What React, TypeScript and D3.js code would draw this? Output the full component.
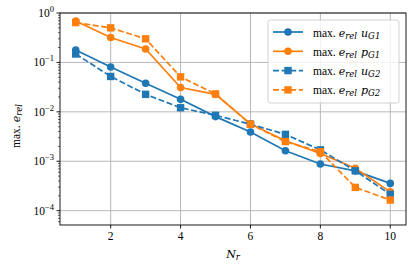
import React from "react";
import * as d3 from "d3";

const nr = [1, 2, 3, 4, 5, 6, 7, 8, 9, 10];
const uG1 = [0.178, 0.081, 0.038, 0.0179, 0.008, 0.0039, 0.00163, 0.00088, 0.00064, 0.000356];
const pG1 = [0.69, 0.32, 0.187, 0.031, 0.0226, 0.0057, 0.0026, 0.00144, 0.00072, 0.00024];
const uG2 = [0.148, 0.052, 0.0226, 0.0121, 0.0085, 0.0056, 0.0035, 0.0017, 0.00064, 0.000214];
const pG2 = [0.64, 0.5, 0.3, 0.051, 0.023, 0.0056, 0.0025, 0.00156, 0.000296, 0.000164];
const xTicks = [2, 4, 6, 8, 10];
const yTickExps = [0, -1, -2, -3, -4];

const series = [
  { name: "u", sub: "G1", values: uG1, color: "#1f77b4", dashed: false, marker: "circle" },
  { name: "p", sub: "G1", values: pG1, color: "#ff7f0e", dashed: false, marker: "circle" },
  { name: "u", sub: "G2", values: uG2, color: "#1f77b4", dashed: true, marker: "square" },
  { name: "p", sub: "G2", values: pG2, color: "#ff7f0e", dashed: true, marker: "square" },
];

const L = 60, R = 406, T = 13, B = 225;
const ROMAN = "'Liberation Serif', 'DejaVu Serif', serif";
const MATH = "'DejaVu Serif', serif";
const DASH = "6,2.6";

function Marker({ x, y, type, color }: any) {
  if (type === "circle") return <circle cx={x} cy={y} r={3.8} fill={color} />;
  return <rect x={x - 3.7} y={y - 3.7} width={7.4} height={7.4} fill={color} />;
}

export default function App() {
  const xs = d3.scaleLinear().domain([0.55, 10.45]).range([L, R]);
  const ys = d3.scaleLog().domain([Math.pow(10, -4.29), 1]).range([B, T]);
  const line = d3.line<number>().x((_, i) => xs(nr[i])).y((d) => ys(d));
  const minor: number[] = [];
  for (let e = -5; e < 0; e++) for (let k = 2; k <= 9; k++) {
    const v = k * Math.pow(10, e);
    if (v >= ys.domain()[0] && v <= 1) minor.push(v);
  }
  const lx = 268, ly = 20, lw = 131, lh = 83;
  return (
    <svg width={415} height={272} style={{ position: "absolute", left: 0, top: 0 }} fontFamily={ROMAN}>
      <rect width={415} height={272} fill="white" />
      {xTicks.map((t) => (
        <line key={"gx" + t} x1={xs(t)} x2={xs(t)} y1={T} y2={B} stroke="#b0b0b0" strokeWidth={0.9} />
      ))}
      {yTickExps.map((e) => (
        <line key={"gy" + e} x1={L} x2={R} y1={ys(Math.pow(10, e))} y2={ys(Math.pow(10, e))} stroke="#b0b0b0" strokeWidth={0.9} />
      ))}
      {series.map((s, si) => (
        <g key={si}>
          <path d={line(s.values) || ""} fill="none" stroke={s.color} strokeWidth={1.7}
            strokeDasharray={s.dashed ? DASH : undefined} />
          {s.values.map((v, i) => (
            <Marker key={i} x={xs(nr[i])} y={ys(v)} type={s.marker} color={s.color} />
          ))}
        </g>
      ))}
      <rect x={L} y={T} width={R - L} height={B - T} fill="none" stroke="black" strokeWidth={0.9} />
      {xTicks.map((t) => (
        <g key={"tx" + t}>
          <line x1={xs(t)} x2={xs(t)} y1={B} y2={B + 3.5} stroke="black" strokeWidth={0.9} />
          <text x={xs(t)} y={B + 15} textAnchor="middle" fontSize={11.5}>{t}</text>
        </g>
      ))}
      {minor.map((v, i) => (
        <line key={"mn" + i} x1={L - 2} x2={L} y1={ys(v)} y2={ys(v)} stroke="black" strokeWidth={0.6} />
      ))}
      {yTickExps.map((e) => (
        <g key={"ty" + e}>
          <line x1={L - 3.5} x2={L} y1={ys(Math.pow(10, e))} y2={ys(Math.pow(10, e))} stroke="black" strokeWidth={0.9} />
          <text x={L - 6} y={ys(Math.pow(10, e)) + 4} textAnchor="end" fontSize={11.5}>
            10<tspan dy={-5} fontSize={8.5}>{e === 0 ? "0" : "\u2212" + Math.abs(e)}</tspan>
          </text>
        </g>
      ))}
      <text transform={`translate(20,126) rotate(-90)`} textAnchor="middle" fontSize={11.5}>
        max.<tspan dx={3} fontFamily={MATH} fontStyle="italic" fontSize={11}>e</tspan>
        <tspan fontFamily={MATH} fontStyle="italic" fontSize={8.5} dy={2}>rel</tspan>
      </text>
      <text x={233} y={258} textAnchor="middle" fontSize={11.5}>
        <tspan fontFamily={MATH} fontStyle="italic" fontSize={11}>N</tspan>
        <tspan fontFamily={MATH} fontStyle="italic" fontSize={8.5} dy={2}>r</tspan>
      </text>
      <rect x={lx} y={ly} width={lw} height={lh} rx={2.5} fill="white" fillOpacity={0.8} stroke="#cccccc" strokeWidth={0.9} />
      {series.map((s, i) => {
        const y = ly + 12 + i * 19.3;
        return (
          <g key={"lg" + i}>
            <line x1={lx + 5} x2={lx + 35} y1={y} y2={y} stroke={s.color} strokeWidth={1.7}
              strokeDasharray={s.dashed ? DASH : undefined} />
            <Marker x={lx + 20} y={y} type={s.marker} color={s.color} />
            <text x={lx + 45} y={y + 4.5} fontSize={11.5}>
              max.<tspan dx={3} fontFamily={MATH} fontStyle="italic" fontSize={11}>e</tspan>
              <tspan fontFamily={MATH} fontStyle="italic" fontSize={8.5} dy={2}>rel</tspan>
              <tspan dx={4} dy={-2} fontFamily={MATH} fontStyle="italic" fontSize={11}>{s.name}</tspan>
              <tspan fontFamily={MATH} fontStyle="italic" fontSize={8.5} dy={2}>{s.sub}</tspan>
            </text>
          </g>
        );
      })}
    </svg>
  );
}
